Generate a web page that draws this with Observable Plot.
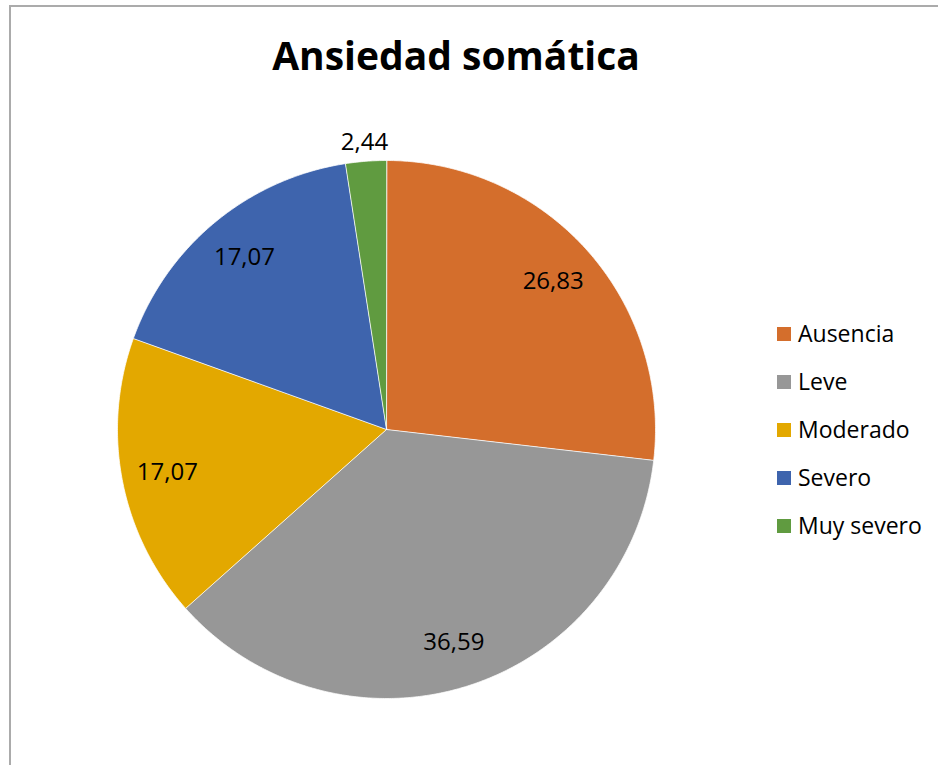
<!DOCTYPE html>
<html>
<head>
<meta charset="utf-8">
<script src="https://cdn.jsdelivr.net/npm/d3@7"></script>
<script src="https://cdn.jsdelivr.net/npm/@observablehq/plot@0.6"></script>
<style>
  html, body { margin: 0; padding: 0; background: #fff; }
  #wrap { position: relative; width: 938px; height: 765px; overflow: hidden; font-family: "Open Sans", Calibri, sans-serif; }
  #frame { position: absolute; left: 9px; top: 5px; width: 1000px; height: 800px; border-left: 2px solid #ababab; border-top: 2px solid #ababab; }
  #title { position: absolute; left: 9px; width: 894px; top: 36px; line-height: 38px; text-align: center; font-weight: bold; font-size: 39px; color: #000; }
  #legend { position: absolute; left: 777px; top: 318px; font-size: 23px; color: #000; }
  .item { height: 48px; display: flex; align-items: flex-start; }
  .item span { line-height: 31px; white-space: nowrap; }
  .sw { width: 14px; height: 14px; margin-top: 9px; margin-right: 7px; flex: none; }
  #chart { position: absolute; left: 0; top: 0; }
</style>
</head>
<body>
<div id="wrap">
  <div id="frame"></div>
  <div id="title"></div>
  <div id="chart"></div>
  <div id="legend"></div>
</div>
<script>
const title = "Ansiedad somática";
const categories = ["Ausencia", "Leve", "Moderado", "Severo", "Muy severo"];
const values = [26.83, 36.59, 17.07, 17.07, 2.44];
const labels = ["26,83", "36,59", "17,07", "17,07", "2,44"];
const colors = ["#d46e2c", "#979797", "#e3a800", "#3e64ad", "#609b40"];

document.getElementById("title").textContent = title;

const total = d3.sum(values);
const slices = [];
const labelPts = [];
let acc = 0;
categories.forEach((c, i) => {
  const a0 = acc / total * 2 * Math.PI;
  acc += values[i];
  const a1 = acc / total * 2 * Math.PI;
  slices.push({cat: c, x: 0, y: 0});
  const n = Math.max(2, Math.ceil((a1 - a0) / (Math.PI / 360)));
  for (let k = 0; k <= n; k++) {
    const a = a0 + (a1 - a0) * k / n;
    slices.push({cat: c, x: Math.sin(a), y: Math.cos(a)});
  }
  const am = (a0 + a1) / 2;
  const rr = values[i] / total < 0.05 ? 1.07 : 0.83;
  labelPts.push({cat: c, label: labels[i], x: rr * Math.sin(am), y: rr * Math.cos(am)});
});

const plot = Plot.plot({
  width: 938,
  height: 765,
  marginLeft: 117,
  marginRight: 283,
  marginTop: 160,
  marginBottom: 67,
  x: {domain: [-1, 1], axis: null},
  y: {domain: [-1, 1], axis: null},
  color: {domain: categories, range: colors},
  style: {background: "transparent", fontFamily: "'Open Sans', Calibri, sans-serif"},
  marks: [
    Plot.line(slices, {x: "x", y: "y", z: "cat", fill: "cat", stroke: "white", strokeWidth: 0.75, curve: "linear-closed"}),
    Plot.text(labelPts, {x: "x", y: "y", text: "label", fontSize: 24, fill: "#000"})
  ]
});
document.getElementById("chart").appendChild(plot);

const leg = document.getElementById("legend");
categories.forEach((c, i) => {
  const it = document.createElement("div");
  it.className = "item";
  const sw = document.createElement("div");
  sw.className = "sw";
  sw.style.background = colors[i];
  const t = document.createElement("span");
  t.textContent = c;
  it.appendChild(sw);
  it.appendChild(t);
  leg.appendChild(it);
});
</script>
</body>
</html>
